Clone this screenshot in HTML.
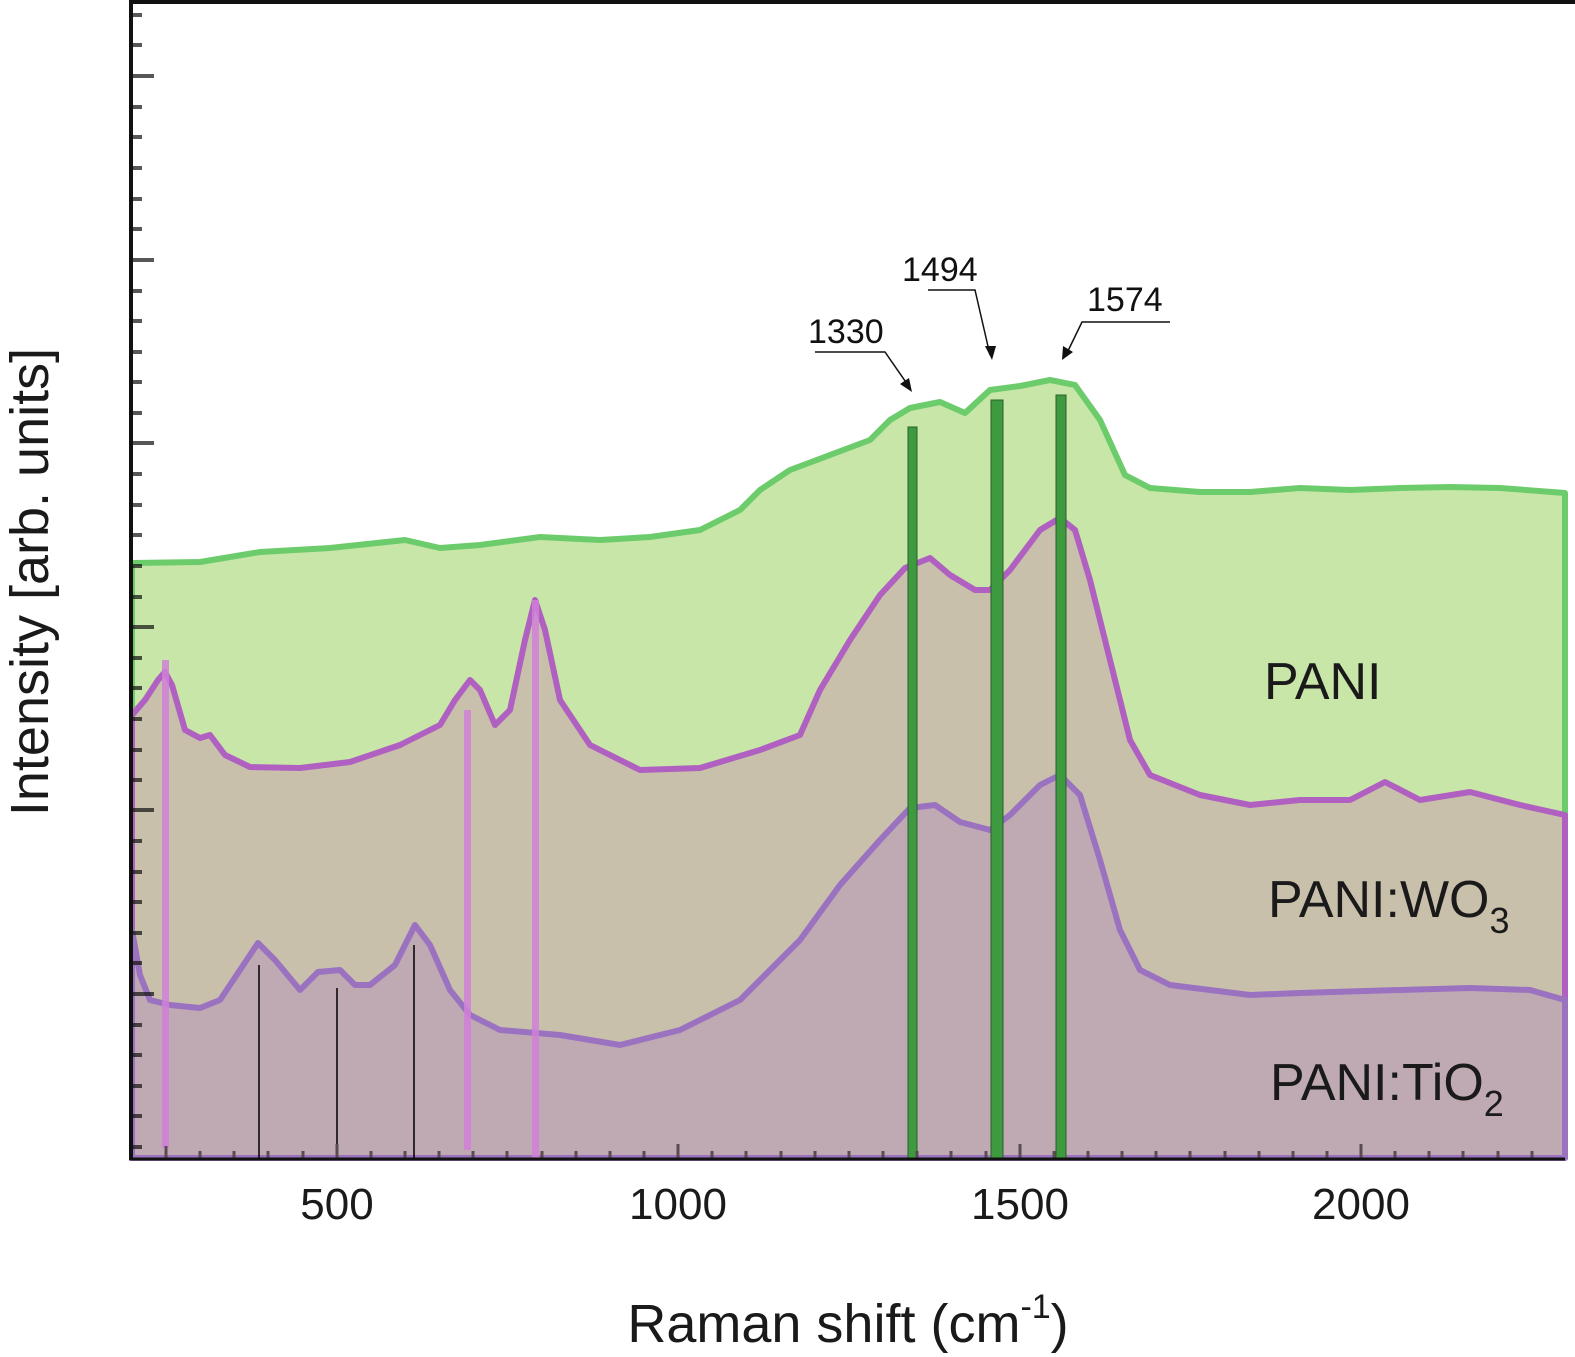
<!DOCTYPE html>
<html><head><meta charset="utf-8"><style>
html,body{margin:0;padding:0;background:#fff;}
svg{display:block;font-family:"Liberation Sans",sans-serif;}
</style></head><body>
<svg width="1575" height="1357" viewBox="0 0 1575 1357" xmlns="http://www.w3.org/2000/svg">
<path d="M132,563 L200,562 L260,552 L330,548 L405,540 L440,548 L480,545 L540,537 L600,540 L650,537 L700,530 L740,510 L760,490 L790,470 L830,455 L870,440 L890,420 L910,408 L940,402 L965,413 L990,390 L1020,386 L1050,380 L1075,385 L1100,420 L1125,475 L1150,488 L1200,492 L1250,492 L1300,488 L1350,490 L1400,488 L1450,487 L1500,488 L1565,493 L1565,1158 L132,1158 Z" fill="#c8e6a8" stroke="#6ccc6c" stroke-width="6" stroke-linejoin="round"/>
<path d="M132,715 L145,700 L158,680 L165,672 L172,685 L185,730 L200,738 L210,735 L225,755 L250,767 L300,768 L350,762 L400,745 L440,725 L455,700 L470,680 L480,690 L495,725 L510,710 L525,640 L535,600 L545,630 L560,700 L590,745 L640,770 L700,768 L760,750 L800,735 L820,690 L850,640 L880,595 L905,568 L930,558 L950,575 L975,590 L990,590 L1010,570 L1040,530 L1060,518 L1075,530 L1090,580 L1110,660 L1130,740 L1150,775 L1200,795 L1250,805 L1300,800 L1350,800 L1385,782 L1420,800 L1470,792 L1520,805 L1565,815 L1565,1158 L132,1158 Z" fill="#c9c0ab" stroke="#b060c0" stroke-width="6" stroke-linejoin="round"/>
<path d="M132,930 L140,975 L150,1000 L170,1005 L200,1008 L220,1000 L240,970 L258,943 L275,960 L300,990 L318,972 L340,970 L355,985 L370,985 L395,965 L415,925 L430,945 L450,990 L470,1015 L500,1030 L560,1035 L620,1045 L680,1030 L740,1000 L800,940 L840,885 L880,840 L910,808 L935,805 L960,822 L990,830 L1010,815 L1040,785 L1060,775 L1080,795 L1100,860 L1120,930 L1140,970 L1170,985 L1250,995 L1300,993 L1400,990 L1470,988 L1530,990 L1565,1000 L1565,1158 L132,1158 Z" fill="#bfaab4" stroke="#9b72c0" stroke-width="6" stroke-linejoin="round"/>
<rect x="162" y="660" width="7" height="488" fill="#d080d8" opacity="0.85"/>
<rect x="464" y="710" width="7" height="440" fill="#d080d8" opacity="0.85"/>
<rect x="532" y="600" width="7" height="558" fill="#d080d8" opacity="0.85"/>
<g stroke="#000" stroke-width="1.5">
<line x1="259" y1="965" x2="259" y2="1158"/>
<line x1="337" y1="988" x2="337" y2="1158"/>
<line x1="414" y1="945" x2="414" y2="1158"/>
</g>
<g fill="#3e9a3e" stroke="#2b5e2b" stroke-width="1">
<rect x="908" y="427" width="9" height="731"/>
<rect x="991" y="400" width="12" height="758"/>
<rect x="1056" y="395" width="10" height="763"/>
</g>
<g stroke="#5a4a55" stroke-width="3">
<path d="M166,1158v-12 M200,1158v-7 M234,1158v-7 M268,1158v-7 M303,1158v-7 M337,1158v-14 M371,1158v-7 M405,1158v-7 M439,1158v-7 M473,1158v-7 M507,1158v-7 M542,1158v-7 M576,1158v-7 M610,1158v-7 M644,1158v-7 M678,1158v-14 M712,1158v-7 M746,1158v-7 M781,1158v-7 M815,1158v-7 M849,1158v-7 M883,1158v-7 M917,1158v-7 M951,1158v-7 M986,1158v-7 M1020,1158v-14 M1054,1158v-7 M1088,1158v-7 M1122,1158v-7 M1156,1158v-7 M1190,1158v-7 M1225,1158v-7 M1259,1158v-7 M1293,1158v-7 M1327,1158v-7 M1361,1158v-14 M1395,1158v-7 M1429,1158v-7 M1463,1158v-7 M1498,1158v-7 M1532,1158v-7"/>
</g>
<g stroke="#111" stroke-width="4">
<path d="M131,15h11 M131,45h11 M131,76h23 M131,107h11 M131,137h11 M131,168h11 M131,199h11 M131,229h11 M131,260h23 M131,291h11 M131,321h11 M131,352h11 M131,382h11 M131,413h11 M131,443h23 M131,474h11 M131,505h11 M131,535h11 M131,566h11 M131,597h11 M131,627h23 M131,658h11 M131,688h11 M131,719h11 M131,750h11 M131,780h11 M131,810h23 M131,841h11 M131,872h11 M131,902h11 M131,933h11 M131,963h11 M131,994h23 M131,1025h11 M131,1055h11 M131,1086h11 M131,1116h11 M131,1147h11" opacity="0.7"/>
</g>
<line x1="131" y1="0" x2="131" y2="1160" stroke="#111" stroke-width="4"/>
<line x1="129" y1="2" x2="1575" y2="2" stroke="#111" stroke-width="4"/>
<line x1="129" y1="1159" x2="1565" y2="1159" stroke="#111" stroke-width="3"/>
<g font-size="34" fill="#111">
<text x="808" y="343">1330</text>
<text x="902" y="281">1494</text>
<text x="1087" y="311">1574</text>
</g>
<g stroke="#111" stroke-width="1.5" fill="none">
<path d="M815,352 H885 L910,388"/>
<path d="M928,290 H975 L990,355"/>
<path d="M1170,322 H1082 L1066,355"/>
</g>
<g fill="#111">
<polygon points="912,392 900,384 909,378"/>
<polygon points="992,360 985,346 996,346"/>
<polygon points="1062,360 1063,346 1073,352"/>
</g>
<g font-size="52" fill="#1a1a1a">
<text x="1264" y="699">PANI</text>
<text x="1268" y="917">PANI:WO<tspan font-size="36" dy="16">3</tspan></text>
<text x="1270" y="1100">PANI:TiO<tspan font-size="36" dy="16">2</tspan></text>
</g>
<g font-size="44" fill="#1a1a1a" text-anchor="middle">
<text x="337" y="1219">500</text>
<text x="678" y="1219">1000</text>
<text x="1020" y="1219">1500</text>
<text x="1361" y="1219">2000</text>
</g>
<text x="848" y="1342" font-size="54" text-anchor="middle" fill="#1a1a1a">Raman shift (cm<tspan font-size="34" dy="-24">-1</tspan><tspan dy="24">)</tspan></text>
<text transform="translate(48,582) rotate(-90)" font-size="54" text-anchor="middle" fill="#1a1a1a">Intensity [arb. units]</text>
</svg>
</body></html>
